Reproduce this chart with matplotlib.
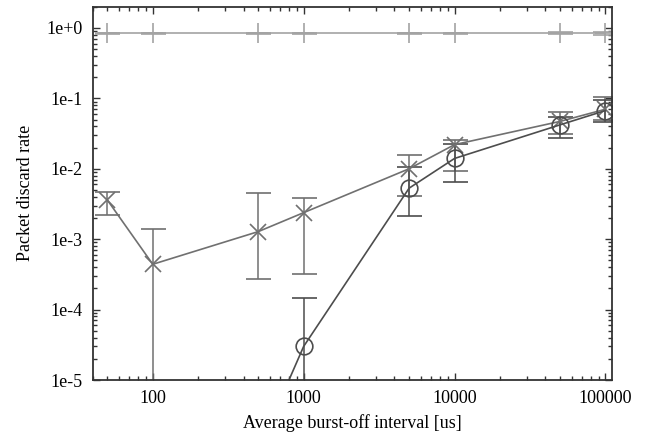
import numpy as np
import matplotlib.pyplot as plt
from matplotlib.ticker import FixedLocator, FuncFormatter, LogLocator, NullFormatter

# burst-off interval [us]
x_vals = [50, 100, 500, 1000, 5000, 10000, 50000, 100000]

# "+" series (almost everything discarded)
plus_y = [0.84, 0.84, 0.84, 0.84, 0.84, 0.84, 0.84, 0.84]
plus_lo = [0.82, 0.82, 0.82, 0.82, 0.82, 0.82, 0.81, 0.80]
plus_hi = [0.86, 0.86, 0.86, 0.86, 0.86, 0.86, 0.87, 0.88]

# "x" series
cross_y = [3.6e-3, 4.4e-4, 1.28e-3, 2.38e-3, 1.0e-2, 2.2e-2, 4.7e-2, 7.0e-2]
cross_lo = [2.2e-3, 1e-9, 2.7e-4, 3.2e-4, 4.1e-3, 9.4e-3, 3.1e-2, 4.9e-2]
cross_hi = [4.6e-3, 1.4e-3, 4.5e-3, 3.9e-3, 1.57e-2, 2.56e-2, 6.3e-2, 0.106]

# "o" series (starts far below the plotted range)
circ_x = [500, 1000, 5000, 10000, 50000, 100000]
circ_y = [1.0e-6, 3.0e-5, 5.3e-3, 1.4e-2, 4.2e-2, 6.7e-2]
circ_lo = [1e-9, 1e-9, 2.1e-3, 6.4e-3, 2.7e-2, 4.6e-2]
circ_hi = [2e-6, 1.48e-4, 1.07e-2, 2.25e-2, 5.5e-2, 9.5e-2]

plt.rcParams['font.family'] = 'Liberation Serif'
plt.rcParams['font.size'] = 13

fig = plt.figure(figsize=(6.47, 4.38), dpi=100)
ax = fig.add_axes([0.1433, 0.1324, 0.8021, 0.8523])


def draw(xs, ys, lo, hi, color, marker, ms):
    ys = np.array(ys)
    err = [ys - np.array(lo), np.array(hi) - ys]
    ax.errorbar(xs, ys, yerr=err, color=color, lw=1.2, elinewidth=1.1,
                capsize=9, capthick=1.1, marker=marker, ms=ms,
                mfc='none', mec=color, mew=1.2)


draw(x_vals, plus_y, plus_lo, plus_hi, '#a3a3a3', '+', 15)
draw(x_vals, cross_y, cross_lo, cross_hi, '#707070', 'x', 12)
draw(circ_x, circ_y, circ_lo, circ_hi, '#4d4d4d', 'o', 12)

ax.set_xscale('log')
ax.set_yscale('log')
ax.set_xlim(40, 110000)
ax.set_ylim(1e-5, 2)

ax.xaxis.set_major_locator(FixedLocator([100, 1000, 10000, 100000]))
ax.xaxis.set_major_formatter(FuncFormatter(lambda v, p: '%d' % v))
ax.xaxis.set_minor_locator(LogLocator(base=10, subs=np.arange(2, 10)))
ax.xaxis.set_minor_formatter(NullFormatter())
ax.yaxis.set_major_locator(FixedLocator([1e-5, 1e-4, 1e-3, 1e-2, 1e-1, 1]))
ax.yaxis.set_major_formatter(FuncFormatter(lambda v, p: '1e%+d' % round(np.log10(v)) if v >= 1 else '1e%d' % round(np.log10(v))))
ax.yaxis.set_minor_locator(LogLocator(base=10, subs=np.arange(2, 10)))
ax.yaxis.set_minor_formatter(NullFormatter())

ax.tick_params(which='both', direction='in', top=True, right=True, color='#333333', width=1)
ax.tick_params(which='major', length=5, pad=7, labelsize=13)
ax.tick_params(which='minor', length=3)
for s in ax.spines.values():
    s.set_linewidth(1.3)
    s.set_color('#333333')

ax.set_xlabel('Average burst-off interval [us]', fontsize=13, labelpad=5)
ax.set_ylabel('Packet discard rate', fontsize=13, labelpad=9)

plt.savefig('out.png', dpi=100)
